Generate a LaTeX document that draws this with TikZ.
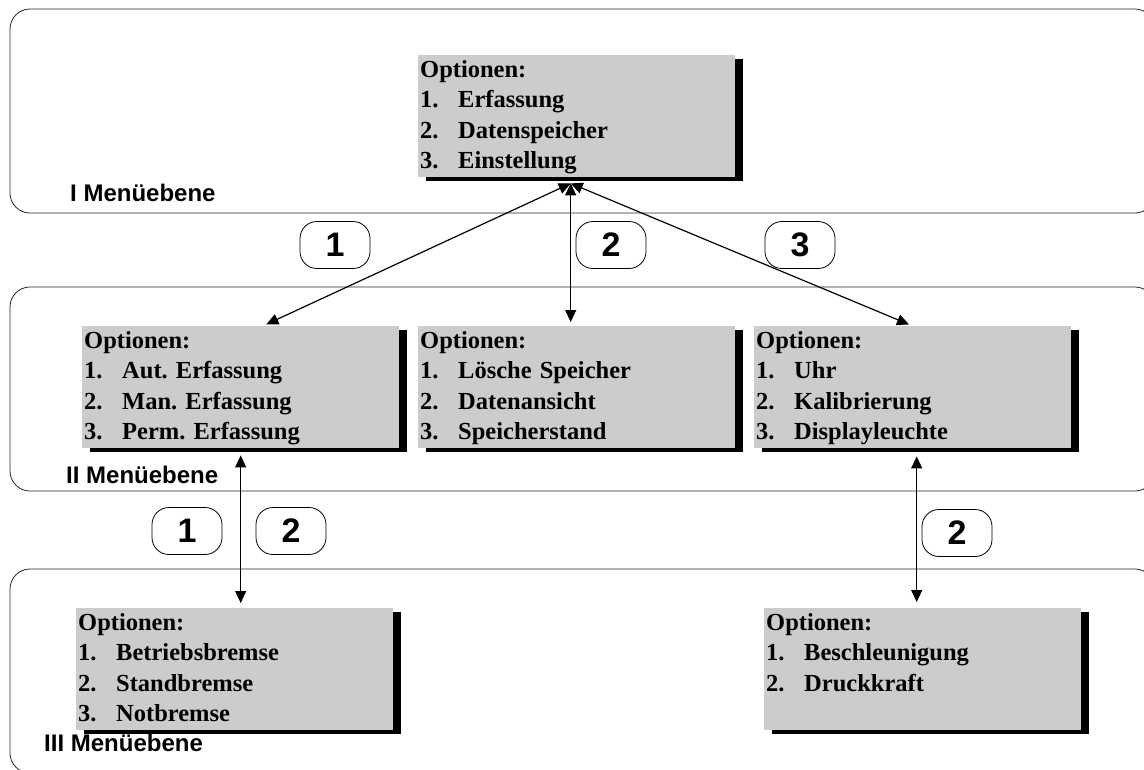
\documentclass[tikz,border=0pt]{standalone}
\usepackage{fontspec}
\setmainfont{Liberation Serif}
\newfontfamily\arialfont{Liberation Sans}
\usetikzlibrary{arrows.meta,shadows}
\definecolor{boxgray}{gray}{0.8}
\newcommand{\opt}[2]{\makebox[38pt][l]{#1}#2}
\frenchspacing

\begin{document}
\begin{tikzpicture}[x=1pt,y=-1pt,
  level/.style={draw=black!85,line width=0.8pt,rounded corners=20pt},
  levelname/.style={anchor=west,inner sep=0pt,font=\arialfont\bfseries\fontsize{24}{28}\selectfont},
  menu/.style={anchor=north west,fill=boxgray,align=left,text width=313pt,inner xsep=2pt,inner ysep=5pt,
    text height=17pt,text depth=95pt,font=\bfseries\fontsize{24.5}{30.5}\selectfont,
    drop shadow={fill=black,opacity=1,shadow xshift=8pt,shadow yshift=-4pt}},
  pill/.style={draw,line width=0.8pt,rounded corners=17pt,minimum width=70pt,minimum height=47pt,
    font=\arialfont\bfseries\fontsize{34}{34}\selectfont},
  link/.style={{Triangle[length=12pt,width=11pt]}-{Triangle[length=12pt,width=11pt]},line width=1.2pt}]
\useasboundingbox (0,0) rectangle (1144,769);

% menu levels
\draw[level] (10,9) rectangle (1155,213);
\draw[level] (10,287) rectangle (1155,491);
\draw[level] (10,569) rectangle (1155,773);
\node[levelname] (l1) at (70,193) {I Menüebene};
\node[levelname] (l2) at (66,475) {II Menüebene};
\node[levelname] (l3) at (44,743) {III Menüebene};

% option keys
\node[pill] (p1) at (335,245) {1};
\node[pill] (p2) at (611,245) {2};
\node[pill] (p3) at (800,245) {3};
\node[pill] (q1) at (187,531) {1};
\node[pill] (q2) at (291,531) {2};
\node[pill] (q3) at (957,533) {2};

% menus
\node[menu] (b1) at (418,55) {Optionen:\\\opt{1.}{Erfassung}\\\opt{2.}{Datenspeicher}\\\opt{3.}{Einstellung}};
\node[menu] (b2) at (82,326) {Optionen:\\\opt{1.}{Aut. Erfassung}\\\opt{2.}{Man. Erfassung}\\\opt{3.}{Perm. Erfassung}};
\node[menu] (b3) at (418,326) {Optionen:\\\opt{1.}{Lösche Speicher}\\\opt{2.}{Datenansicht}\\\opt{3.}{Speicherstand}};
\node[menu] (b4) at (754,326) {Optionen:\\\opt{1.}{Uhr}\\\opt{2.}{Kalibrierung}\\\opt{3.}{Displayleuchte}};
\node[menu] (b6) at (76,608) {Optionen:\\\opt{1.}{Betriebsbremse}\\\opt{2.}{Standbremse}\\\opt{3.}{Notbremse}};
\node[menu] (b5) at (764,608) {Optionen:\\\opt{1.}{Beschleunigung}\\\opt{2.}{Druckkraft}};

% links
\coordinate (hub) at ([xshift=-6pt,yshift=-6pt]b1.south);
\draw[link,shorten >=4pt] (hub) -- ([xshift=22pt]b2.north);
\draw[link,shorten >=4pt] (hub) -- (hub |- b3.north);
\draw[link,shorten >=4pt] (hub) -- (b4.north);
\draw[link,shorten <=7pt,shorten >=5pt] (b2.south) -- (b2.south |- b6.north);
\draw[link,shorten <=8pt,shorten >=6pt] ([xshift=4pt]b4.south) -- ([xshift=4pt]b4.south |- b5.north);
\end{tikzpicture}
\end{document}
